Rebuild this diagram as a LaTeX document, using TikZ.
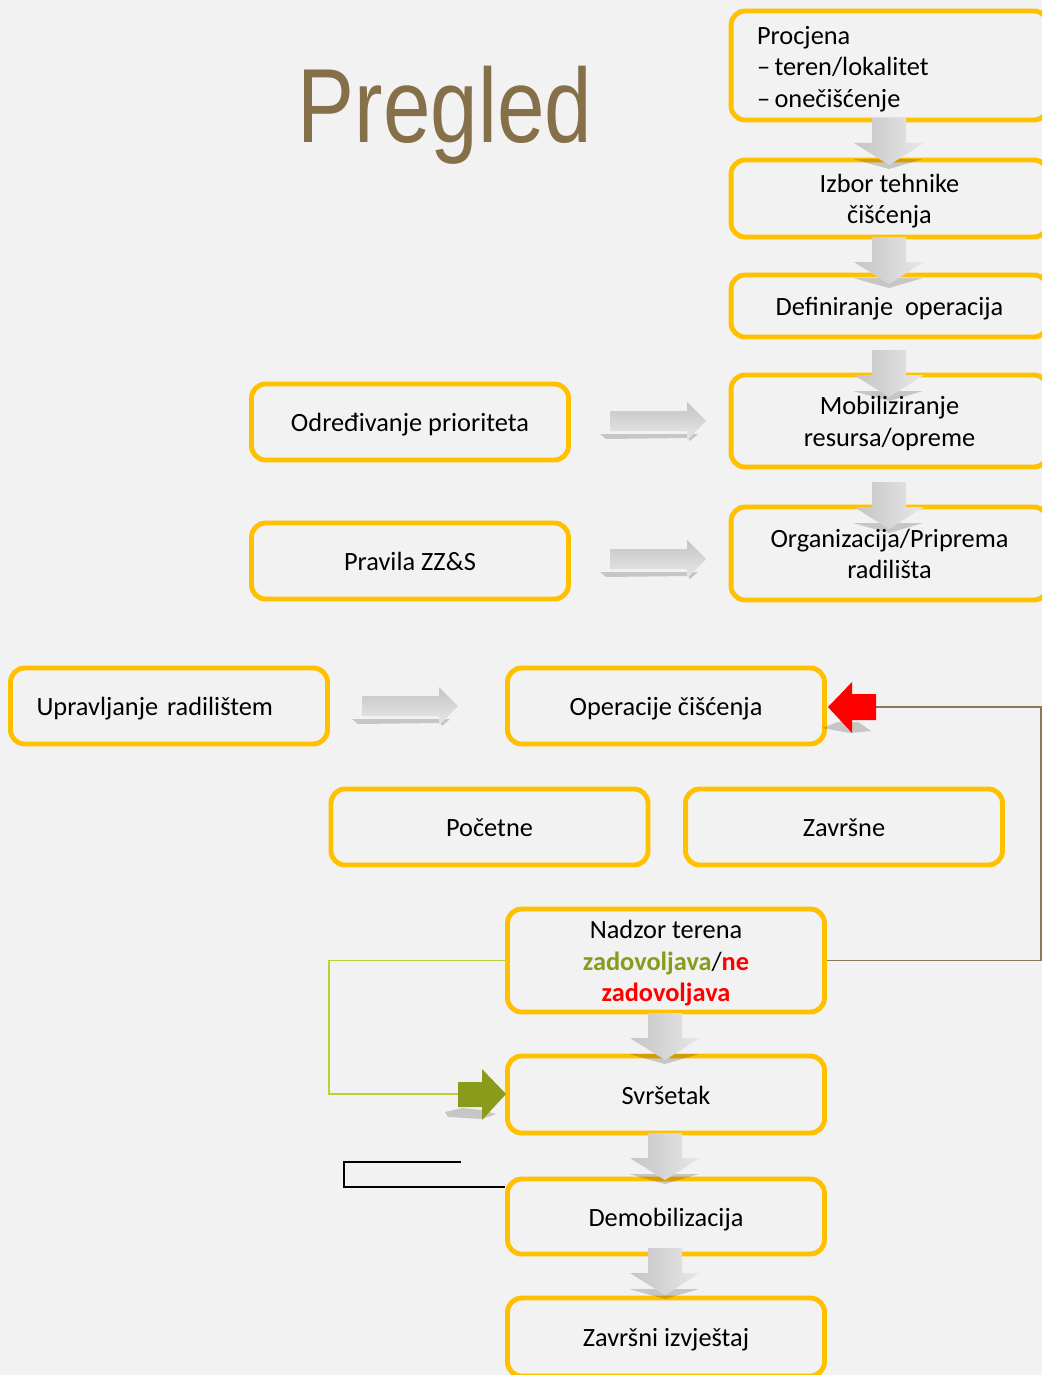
\documentclass[tikz,border=0pt]{standalone}
\usepackage{fontspec}
\setmainfont{Carlito}
\newfontfamily\titlefont{Liberation Sans}
\definecolor{bggray}{HTML}{F2F2F2}
\definecolor{boxorange}{HTML}{FFC000}
\definecolor{titlebrown}{HTML}{85704A}
\definecolor{linebrown}{HTML}{8B7B55}
\definecolor{okgreen}{HTML}{8A9A1B}
\definecolor{linegreen}{HTML}{BFCF30}
\definecolor{arrowdark}{HTML}{C4C4C4}
\definecolor{arrowlight}{HTML}{E8E8E8}
\definecolor{arrowred}{HTML}{FF0000}
\newcommand\tstrut{\rule[-3.5pt]{0pt}{18pt}}
\newcommand\downblock[2]{%
	\fill[black,opacity=0.18] (#1-36,#2+41) -- (#1+34,#2+41) -- (#1,#2+51) -- cycle;
	\shade[left color=arrowdark,right color=arrowlight] (#1-17,#2) -- (#1+17,#2) -- (#1+17,#2+25) -- (#1+35,#2+25) -- (#1,#2+47) -- (#1-35,#2+25) -- (#1-17,#2+25) -- cycle;
}
\newcommand\rightblock[2]{%
	\fill[black,opacity=0.18] (#1-10,#2+13) -- (#1+88,#2+13) -- (#1+80,#2+20) -- (#1+78,#2+17) -- (#1-4,#2+18) -- cycle;
	\shade[top color=arrowdark,bottom color=arrowlight] (#1,#2-10) -- (#1+77,#2-10) -- (#1+77,#2-19) -- (#1+96,#2) -- (#1+77,#2+19) -- (#1+77,#2+10) -- (#1,#2+10) -- cycle;
}
\begin{document}
\begin{tikzpicture}[x=0.02cm,y=-0.02cm,
		box/.style={draw=boxorange,line width=2.8pt,rounded corners=8pt,align=center,inner sep=0pt,
			font=\fontsize{15}{18}\selectfont,minimum width=6.34cm,minimum height=1.54cm,
			execute at begin node={\tstrut}},
		brownline/.style={draw=linebrown,line width=1.1pt},
		greenline/.style={draw=linegreen,line width=1.1pt}]
	\useasboundingbox (0,0) rectangle (1042,1375);
	\clip (0,0) rectangle (1042,1375);
	\fill[bggray] (0,0) rectangle (1042,1375);
	\node[anchor=base,text=titlebrown,font=\titlefont\fontsize{60}{60}\selectfont] (title) at (445,143) {\scalebox{0.81}[1]{Pregled}};
	\node[box,minimum height=2.18cm,text width=5.3cm,align=left] (procjena) at (889.5,65.5) {Procjena\\ --\,teren/lokalitet\\ --\,onečišćenje};
	\node[box] (izbor) at (889.5,198.5) {\tstrut Izbor tehnike\\ čišćenja\tstrut};
	\node[box,minimum height=1.24cm] (definiranje) at (889.5,306) {Definiranje~ operacija};
	\node[box,minimum height=1.84cm] (mobil) at (889.5,421) {\tstrut Mobiliziranje\\ resursa/opreme\tstrut};
	\node[box,minimum height=1.86cm] (organiz) at (889.5,553.5) {\tstrut Organizacija/Priprema\\ radilišta\tstrut};
	\node[box,minimum height=1.52cm] (odredj) at (410,422) {Određivanje prioriteta};
	\node[box,minimum height=1.52cm] (pravila) at (410,561) {Pravila ZZ\&S};
	\node[box,minimum height=1.52cm,text width=5.3cm,align=left] (upravlj) at (169,706) {Upravljanje radilištem};
	\node[box,minimum height=1.52cm] (operacije) at (666,706) {Operacije čišćenja};
	\node[box,minimum height=1.52cm] (pocetne) at (489.5,827) {Početne};
	\node[box,minimum height=1.52cm] (zavrsne) at (844,827) {Završne};
	\node[box,minimum height=2.06cm] (nadzor) at (666,960.5) {\tstrut Nadzor terena\\ \textcolor{okgreen}{\textbf{zadovoljava}}/\textcolor{arrowred}{\textbf{ne}}\\ \textcolor{arrowred}{\textbf{zadovoljava}}\tstrut};
	\node[box] (svrsetak) at (666,1094.5) {Svršetak};
	\node[box,minimum height=1.5cm] (demob) at (666,1216.5) {Demobilizacija};
	\node[box,minimum height=1.56cm] (izvjestaj) at (666,1337) {Završni izvještaj};
	\foreach \ya in {118,237,350,482}
	{
		\downblock{889}{\ya}
	}
	\foreach \ya in {1013,1133,1248}
	{
		\downblock{665}{\ya}
	}
	\rightblock{610}{421}
	\rightblock{610}{559}
	\rightblock{362}{706}
	\coordinate (redtail) at (876,707);
	\coordinate (greentail) at (458,1094);
	\coordinate (bracketfree) at (461,1162);
	\coordinate (bracketend) at (505,1187);
	\draw[brownline] (redtail) -- (1041,707) |- (nadzor.east);
	\draw[greenline] (nadzor.west) -| (329,1094) -- (greentail);
	\draw[black,line width=1.1pt] (bracketfree) -| (344,1187) -- (bracketend);
	\fill[black,opacity=0.18] (822,728) -- (838,722) -- (858,722) -- (871,731) -- (850,733) -- cycle;
	\fill[arrowred] (828,707) -- (852,682) -- (852,694) -- (876,694) -- (876,720) -- (852,720) -- (852,733) -- cycle;
	\fill[black,opacity=0.18] (445,1112) -- (462,1108) -- (482,1110) -- (496,1114) -- (482,1119) -- (448,1117) -- cycle;
	\fill[okgreen] (506,1094) -- (482,1069) -- (482,1082) -- (458,1082) -- (458,1107) -- (482,1107) -- (482,1120) -- cycle;
\end{tikzpicture}
\end{document}
